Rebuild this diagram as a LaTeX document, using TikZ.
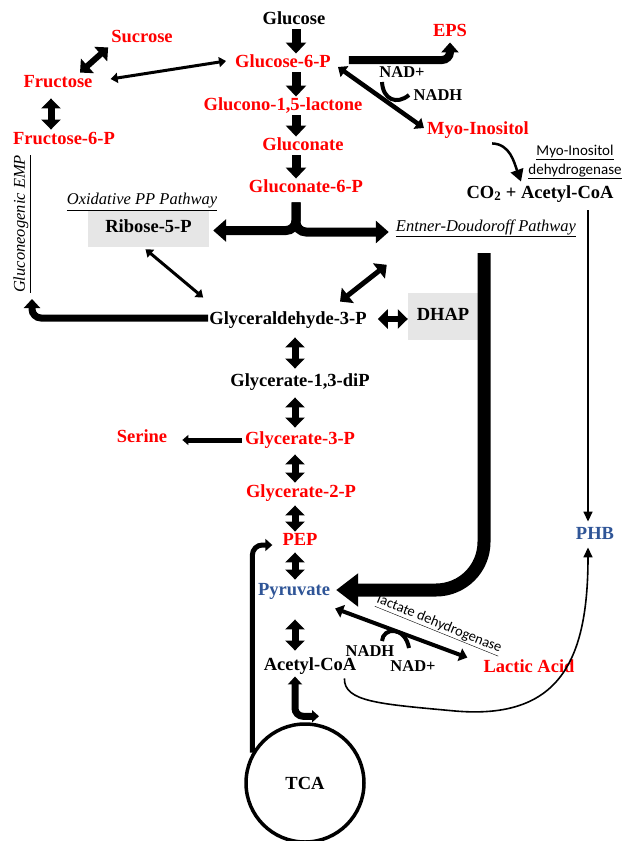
\documentclass[tikz,border=0pt]{standalone}
\usepackage{fontspec}
\setmainfont{Liberation Serif}
\newfontfamily\calibri{Carlito}
\usetikzlibrary{arrows.meta,calc}
\definecolor{rd}{HTML}{FF0000}
\definecolor{bl}{HTML}{2F5597}
\definecolor{gbox}{HTML}{E6E6E6}
\begin{document}
\begin{tikzpicture}[x=1pt,y=-1pt,
  lbl/.style={font=\fontsize{18.5}{20}\selectfont\bfseries, inner sep=1pt, text height=12.5pt, text depth=4pt},
  rlbl/.style={lbl, text=rd},
  blbl/.style={lbl, text=bl},
  small/.style={font=\fontsize{16.5}{18}\selectfont\bfseries, inner sep=1pt},
  ital/.style={font=\fontsize{16.5}{18}\selectfont\itshape, inner sep=1pt},
  dbl/.style={line width=7pt, {Triangle[length=10pt,width=19pt]}-{Triangle[length=10pt,width=19pt]}},
  dblthin/.style={line width=3pt, {Triangle[length=7pt,width=10pt]}-{Triangle[length=7pt,width=10pt]}},
  dblmid/.style={line width=4.5pt, {Triangle[length=8pt,width=13pt]}-{Triangle[length=8pt,width=13pt]}},
  colarr/.style={line width=9pt, -{Triangle[length=11pt,width=20pt]}},
  splitarr/.style={line width=9pt, rounded corners=10pt, -{Triangle[length=13pt,width=22pt]}},
  hook/.style={line width=4pt},
 ]
\useasboundingbox (0,0) rectangle (623,841);
\coordinate (colx) at (296,0);
\coordinate (dblx) at (295,0);
\coordinate (phbx) at (588,0);

% ---- nodes ----
\node[lbl]  (glc)  at (294,20)  {Glucose};
\node[rlbl] (g6p)  at (283,63)  {Glucose-6-P};
\node[rlbl] (glcl) at (283,106) {Glucono-1,5-lactone};
\node[rlbl] (glcn) at (303,146) {Gluconate};
\node[rlbl] (g6pn) at (306,188) {Gluconate-6-P};
\node[rlbl] (suc)  at (142,38)  {Sucrose};
\node[rlbl] (fru)  at (58,83)   {Fructose};
\node[rlbl] (f6p)  at (64,140)  {Fructose-6-P};
\node[rlbl] (eps)  at (450,32)  {EPS};
\node[rlbl] (myo)  at (478,130) {Myo-Inositol};
\node[small] (nadp1) at (402,72) {NAD+};
\node[small] (nadh1) at (438,95) {NADH};
\node[font=\calibri\fontsize{15}{19}\selectfont, align=center, inner sep=0pt] (mid) at (575,162) {\underline{Myo-Inositol}\\\underline{dehydrogenase}};
\node[lbl] (co2) at (540,194) {CO\textsubscript{2} + Acetyl-CoA};
\node[lbl, fill=gbox, minimum width=121pt, minimum height=37pt] (rib) at (148.5,228.5) {Ribose-5-P};
\node[ital] (opp) at (142,202) {\underline{Oxidative PP Pathway}};
\node[ital] (ed)  at (486,228) {\underline{Entner-Doudoroff Pathway}};
\node[ital, rotate=90] (gemp) at (22,224) {\underline{Gluconeogenic EMP}};
\node[lbl] (g3p) at (288,320) {Glyceraldehyde-3-P};
\node[lbl, fill=gbox, minimum width=70pt, minimum height=47pt] (dhap) at (443,316.5) {DHAP};
\node[lbl]  (g13) at (300,382) {Glycerate-1,3-diP};
\node[rlbl] (g3)  at (300,440) {Glycerate-3-P};
\node[rlbl] (ser) at (142,438) {Serine};
\node[rlbl] (g2)  at (301,493) {Glycerate-2-P};
\node[rlbl] (pep) at (300,541) {PEP};
\node[blbl] (pyr) at (294,591) {Pyruvate};
\node[lbl]  (acoa) at (310,666) {Acetyl-CoA};
\node[rlbl] (lac) at (529,668) {Lactic Acid};
\node[blbl] (phb) at (595,535) {PHB};
\node[small] (nadh2) at (370,651) {NADH};
\node[small] (nadp2) at (413,666) {NAD+};
\node[draw, circle, line width=3.5pt, minimum size=118pt, font=\fontsize{18.5}{20}\selectfont\bfseries] (tca) at (305,783) {TCA};

% ---- glucose column ----
\draw[colarr] (glc.south -| colx) -- (g6p.north -| colx);
\draw[colarr] (g6p.south -| colx) -- (glcl.north -| colx);
\draw[colarr] (glcl.south -| colx) -- (glcn.north -| colx);
\draw[colarr] (glcn.south -| colx) -- (g6pn.north -| colx);
\draw[splitarr] ($(g6pn.south -| colx)+(0,5)$) |- ($(rib.east)+(4,2)$);
\draw[splitarr] ($(g6pn.south -| colx)+(0,5)$) |- ($(ed.west)+(-6,4)$);

% ---- sugars ----
\draw[dbl, line width=6pt] ($(fru.north)+(22,-1)$) -- ($(suc.south west)+(-2,0)$);
\draw[dblthin] ($(fru.east)+(17,-4)$) -- ($(g6p.west)+(-8,-2)$);
\draw[dbl] ($(fru.south)+(-7,6)$) -- ($(f6p.north)+(-13,-1)$);

% ---- EPS / myo-inositol ----
\draw[line width=8pt, rounded corners=8pt, -{Triangle[length=10pt,width=17pt]}] ($(g6p.east)+(17,-3)$) -| ($(eps.south)+(0,1)$);
\draw[dblmid] ($(g6p.east)+(6,4)$) -- ($(myo.west)+(-2,-2)$);
\coordinate (h1a) at (382,82);
\coordinate (h1b) at (409,95);
\draw[hook] (h1a) .. controls (383,100) and (397,105) .. (h1b);
\draw[line width=2.5pt, -{Triangle[length=12pt,width=13pt]}] ($(myo.south east)+(-38,4)$) .. controls (510,144) and (514,162) .. ($(co2.north)+(-19,-3)$);
\draw[line width=1.6pt, -{Triangle[length=10pt,width=9pt]}] ($(co2.south -| phbx)+(0,7)$) -- ($(phb.north -| phbx)+(0,-4)$);

% ---- lower glycolysis ----
\draw[dblthin] ($(rib.south)+(-3,2)$) -- ($(g3p.north west)+(-5,-13)$);
\draw[dbl, line width=5pt] ($(g3p.north)+(52,-9)$) -- ($(ed.south west)+(-8,27)$);
\draw[dbl, line width=6pt] ($(g3p.east)+(10,-1)$) -- ($(dhap.west)+(0,2.5)$);
\coordinate (emptip) at (32,299);
\draw[line width=7pt, rounded corners=9pt, -{Triangle[length=9pt,width=16pt]}] ($(g3p.west)+(0,-2)$) -| (emptip);
\draw[dbl, shorten <=8pt, shorten >=4pt] (g3p.south -| dblx) -- (g13.north -| dblx);
\draw[dbl, shorten <=6pt, shorten >=3pt] (g13.south -| dblx) -- (g3.north -| dblx);
\draw[dbl, shorten <=5pt, shorten >=1pt] (g3.south -| dblx) -- (g2.north -| dblx);
\draw[dbl, shorten <=3pt, shorten >=0pt] (g2.south -| dblx) -- (pep.north -| dblx);
\draw[dbl, shorten <=2pt, shorten >=2pt] (pep.south -| dblx) -- (pyr.north -| dblx);
\draw[dbl, shorten <=19pt, shorten >=6pt] (pyr.south -| dblx) -- (acoa.north -| dblx);
\draw[line width=5pt, -{Triangle[length=6pt,width=10pt]}, shorten >=14pt] ($(g3.west)+(-2,0)$) -- (ser.east |- g3.west);

% ---- Entner-Doudoroff to pyruvate ----
\coordinate (edtop) at (484,253);
\draw[line width=13pt, rounded corners=48pt, -{Triangle[length=22pt,width=32pt]}] (edtop) |- ($(pyr.east)+(5,-1)$);

% ---- pyruvate / lactate ----
\draw[dblmid, line width=4pt] ($(pyr.south east)+(4,8)$) -- ($(lac.north west)+(-15,-1)$);
\coordinate (h2a) at (382,641);
\coordinate (h2b) at (409,648);
\draw[hook] (h2a) .. controls (383,627) and (405,626) .. (h2b);
\draw[line width=1.6pt, -{Triangle[length=10pt,width=9pt]}] ($(acoa.south east)+(-13,3)$) .. controls (344,702) and (380,704) .. (455,711) .. controls (560,720) and (588,660) .. ($(phb.south -| phbx)+(0,3)$);
\node[font=\calibri\fontsize{14.5}{16}\selectfont, rotate=-22, inner sep=0pt] (ldh) at (439,625) {\underline{lactate dehydrogenase}};

% ---- TCA ----
\draw[line width=5pt, rounded corners=10pt, -{Triangle[length=7pt,width=12pt]}, shorten >=9pt] (tca.150) |- ($(pep.west)+(0,4)$);
\draw[line width=7pt, rounded corners=8pt, {Triangle[length=8pt,width=14pt]}-{Triangle[length=7pt,width=12pt]}] ($(acoa.south -| dblx)+(0,1)$) |- ($(tca.north)+(14,-6)$);
\end{tikzpicture}
\end{document}
